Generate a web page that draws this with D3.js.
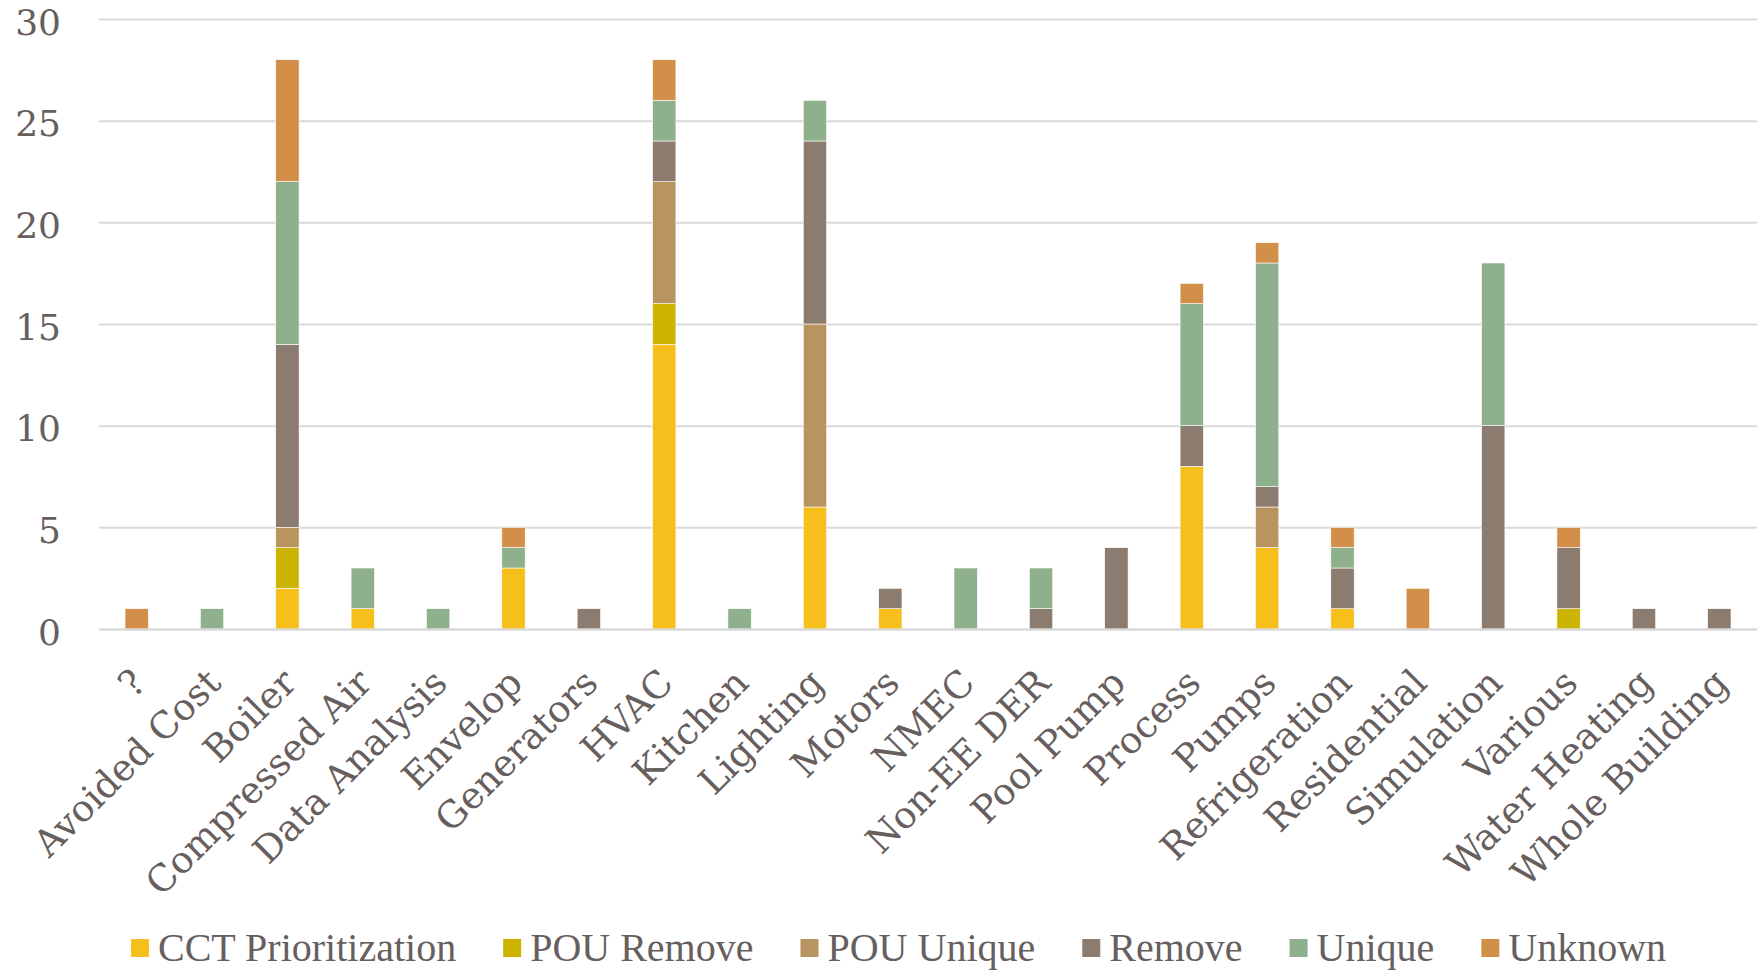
<!DOCTYPE html>
<html><head><meta charset="utf-8">
<script src="https://cdn.jsdelivr.net/npm/d3@7"></script>
<style>html,body{margin:0;padding:0;background:#fff;}svg{display:block;}</style>
</head><body>
<svg id="chart" width="1764" height="970"></svg>
<script>
const categories = ["?","Avoided Cost","Boiler","Compressed Air","Data Analysis","Envelop","Generators","HVAC","Kitchen","Lighting","Motors","NMEC","Non-EE DER","Pool Pump","Process","Pumps","Refrigeration","Residential","Simulation","Various","Water Heating","Whole Building"];
const seriesNames = ["CCT Prioritization","POU Remove","POU Unique","Remove","Unique","Unknown"];
const cctPrioritization = [0,0,2,1,0,3,0,14,0,6,1,0,0,0,8,4,1,0,0,0,0,0];
const pouRemove         = [0,0,2,0,0,0,0,2,0,0,0,0,0,0,0,0,0,0,0,1,0,0];
const pouUnique         = [0,0,1,0,0,0,0,6,0,9,0,0,0,0,0,2,0,0,0,0,0,0];
const remove            = [0,0,9,0,0,0,1,2,0,9,1,0,1,4,2,1,2,0,10,3,1,1];
const unique            = [0,1,8,2,1,1,0,2,1,2,0,3,2,0,6,11,1,0,8,0,0,0];
const unknown           = [1,0,6,0,0,1,0,2,0,0,0,0,0,0,1,1,1,2,0,1,0,0];
const yTicks = [0,5,10,15,20,25,30];
const colors = ["#F6BF1C","#CCB400","#B89461","#8C7B6F","#8FB08C","#D18F49"];

const allSeries = [cctPrioritization,pouRemove,pouUnique,remove,unique,unknown];
const table = categories.map((c,i)=>{const o={cat:c}; seriesNames.forEach((s,j)=>o[s]=allSeries[j][i]); return o;});
const stacked = d3.stack().keys(seriesNames)(table);

const svg = d3.select("#chart");
const m = {left:99, right:1757, top:19, bottom:629};
const x = d3.scaleBand().domain(categories).range([m.left,m.right]).paddingInner(0.69).paddingOuter(0.345);
const y = d3.scaleLinear().domain([0,30]).range([m.bottom,m.top]);
const textColor = "#675E5E";

// gridlines
const yAxis = d3.axisLeft(y).tickValues(yTicks).tickSize(-(m.right-m.left)).tickPadding(38);
const gy = svg.append("g").attr("transform",`translate(${m.left},0)`).call(yAxis);
gy.select(".domain").remove();
gy.selectAll(".tick line").attr("stroke","#D9D9D9").attr("stroke-width",2);
gy.selectAll(".tick text").attr("fill",textColor).attr("dy","0.42em")
  .style("font-family","'DejaVu Serif', serif").style("font-size","36px");

// bars
svg.append("g").selectAll("g").data(stacked).join("g").attr("fill",(d,i)=>colors[i])
  .selectAll("rect").data(d=>d.filter(p=>p[1]-p[0]>0).map(p=>({p,cat:p.data.cat}))).join("rect")
  .attr("x",d=>x(d.cat)).attr("width",x.bandwidth())
  .attr("y",d=>y(d.p[1])).attr("height",d=>y(d.p[0])-y(d.p[1]))
  .attr("stroke","#fff").attr("stroke-width",0.6);

// x axis
const xAxis = d3.axisBottom(x).tickSize(0).tickPadding(0);
const gx = svg.append("g").attr("transform",`translate(0,${m.bottom})`).call(xAxis);
gx.select(".domain").attr("stroke","#D9D9D9").attr("stroke-width",2);
gx.selectAll(".tick text").attr("fill",textColor)
  .style("font-family","'DejaVu Serif', serif").style("font-size","37px")
  .attr("text-anchor","end").attr("dy",0)
  .attr("transform","translate(11,56) rotate(-45)");

// legend
const lg = svg.append("g").attr("transform","translate(0,948)");
let cx = 131;
seriesNames.forEach((s,i)=>{
  const g = lg.append("g").attr("transform",`translate(${cx},0)`);
  g.append("rect").attr("x",0).attr("y",-9).attr("width",18).attr("height",18).attr("fill",colors[i]);
  const t = g.append("text").attr("x",27).attr("y",13).attr("fill",textColor)
    .style("font-family","'Liberation Serif', serif").style("font-size","40px").text(s);
  cx += 27 + t.node().getComputedTextLength() + 47;
});
</script>
</body></html>
